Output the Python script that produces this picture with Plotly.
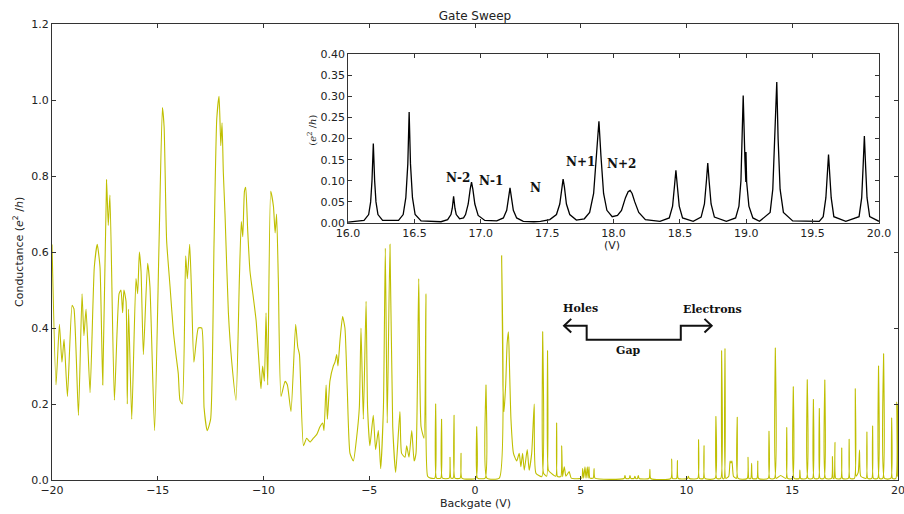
import plotly.graph_objects as go

# ---------------- main sweep (Backgate V, conductance e^2/h) ----------------
gate_v = [
    -20.00, -19.81, -19.65, -19.53, -19.43, -19.27, -19.05, -18.96, -18.75, -18.58,
    -18.49, -18.39, -18.20, -18.00, -17.86, -17.73, -17.60, -17.42, -17.34, -17.26,
    -17.05, -16.83, -16.74, -16.66, -16.60, -16.50, -16.44, -16.38, -16.23, -16.03,
    -15.95, -15.87, -15.79, -15.68, -15.48, -15.37, -15.15, -14.94, -14.78, -14.70,
    -14.58, -14.42, -14.26, -14.14, -14.03, -13.95, -13.84, -13.68, -13.60, -13.49,
    -13.40, -13.29, -13.08, -12.92, -12.81, -12.66, -12.50, -12.34, -12.21, -12.10,
    -12.02, -11.96, -11.90, -11.82, -11.66, -11.50, -11.30, -11.14, -11.05, -10.98,
    -10.90, -10.84, -10.75, -10.64, -10.48, -10.35, -10.19, -10.12, -10.04, -9.96,
    -9.88, -9.80, -9.66, -9.53, -9.45, -9.38, -9.30, -9.17, -8.98, -8.87,
    -8.70, -8.48, -8.38, -8.30, -8.11, -7.96, -7.80, -7.64, -7.48, -7.33,
    -7.20, -7.14, -7.04, -6.98, -6.86, -6.70, -6.62, -6.54, -6.48, -6.38,
    -6.26, -6.15, -6.04, -5.91, -5.75, -5.60, -5.47, -5.39, -5.28, -5.15,
    -5.08, -4.97, -4.81, -4.70, -4.57, -4.46, -4.33, -4.24, -4.15, -4.02,
    -3.89, -3.75, -3.55, -3.47, -3.31, -3.23, -3.12, -2.99, -2.88, -2.79,
    -2.66, -2.55, -2.41, -2.32, -2.24, -2.10, -1.90, -1.86, -1.82, -1.62,
    -1.58, -1.54, -1.22, -1.18, -1.14, -1.03, -0.99, -0.95, -0.70, -0.66,
    -0.62, 0.04, 0.08, 0.12, 0.48, 0.52, 0.56, 1.15, 1.26, 1.32,
    1.37, 1.45, 1.52, 1.58, 1.63, 1.70, 1.82, 1.97, 2.09, 2.17,
    2.25, 2.33, 2.47, 2.56, 2.68, 2.80, 2.88, 3.16, 3.20, 3.24,
    3.39, 3.43, 3.47, 3.60, 3.82, 3.86, 3.90, 4.06, 4.10, 4.14,
    4.22, 4.30, 4.45, 4.55, 5.05, 5.09, 5.14, 5.20, 5.25, 5.31,
    5.35, 5.39, 5.43, 5.59, 5.63, 5.67, 7.05, 7.09, 7.13, 7.29,
    7.33, 7.37, 7.52, 7.56, 7.60, 7.68, 7.72, 7.76, 8.23, 8.27,
    8.31, 9.26, 9.30, 9.34, 9.53, 9.57, 9.61, 10.05, 10.09, 10.13,
    10.53, 10.57, 10.61, 10.79, 10.83, 10.87, 11.35, 11.39, 11.43, 11.62,
    11.66, 11.71, 11.78, 11.82, 11.86, 12.00, 12.06, 12.10, 12.15, 12.22,
    12.36, 12.40, 12.44, 12.87, 12.91, 12.95, 13.04, 13.08, 13.12, 13.33,
    13.37, 13.41, 13.86, 13.90, 13.94, 14.16, 14.20, 14.24, 14.45, 14.70,
    14.74, 14.78, 15.01, 15.05, 15.09, 15.33, 15.36, 15.40, 15.67, 15.71,
    15.75, 15.96, 16.00, 16.04, 16.24, 16.28, 16.32, 16.50, 16.54, 16.58,
    16.86, 16.90, 16.94, 16.98, 17.02, 17.06, 17.30, 17.34, 17.38, 17.65,
    17.69, 17.73, 17.94, 17.98, 18.02, 18.12, 18.18, 18.24, 18.49, 18.53,
    18.57, 18.76, 18.80, 18.84, 19.04, 19.08, 19.12, 19.28, 19.32, 19.36,
    19.66, 19.70, 19.74, 19.90, 19.94, 19.97, 20.00,
]
conductance = [
    0.62, 0.25, 0.41, 0.31, 0.37, 0.22, 0.46, 0.45, 0.17, 0.49,
    0.38, 0.45, 0.23, 0.56, 0.62, 0.56, 0.25, 0.79, 0.67, 0.75,
    0.21, 0.49, 0.50, 0.44, 0.50, 0.47, 0.20, 0.45, 0.16, 0.53,
    0.49, 0.60, 0.55, 0.33, 0.57, 0.51, 0.13, 0.62, 0.98, 0.93,
    0.63, 0.51, 0.39, 0.33, 0.28, 0.21, 0.20, 0.59, 0.53, 0.62,
    0.49, 0.31, 0.40, 0.40, 0.19, 0.13, 0.16, 0.62, 0.95, 1.01,
    0.88, 0.94, 0.81, 0.70, 0.44, 0.31, 0.21, 0.53, 0.68, 0.64,
    0.76, 0.77, 0.66, 0.55, 0.48, 0.42, 0.29, 0.24, 0.30, 0.26,
    0.44, 0.25, 0.76, 0.72, 0.65, 0.70, 0.53, 0.22, 0.26, 0.25,
    0.18, 0.41, 0.35, 0.33, 0.09, 0.11, 0.10, 0.11, 0.12, 0.14,
    0.15, 0.13, 0.25, 0.16, 0.26, 0.30, 0.31, 0.33, 0.30, 0.37,
    0.43, 0.40, 0.24, 0.07, 0.05, 0.11, 0.19, 0.40, 0.16, 0.47,
    0.19, 0.09, 0.17, 0.08, 0.13, 0.03, 0.19, 0.61, 0.15, 0.62,
    0.14, 0.02, 0.18, 0.07, 0.06, 0.09, 0.06, 0.13, 0.05, 0.07,
    0.53, 0.14, 0.11, 0.49, 0.01, 0.005, 0.005, 0.20, 0.005, 0.005,
    0.16, 0.005, 0.005, 0.06, 0.005, 0.005, 0.17, 0.005, 0.005, 0.07,
    0.005, 0.005, 0.14, 0.005, 0.005, 0.25, 0.005, 0.005, 0.59, 0.25,
    0.18, 0.25, 0.36, 0.39, 0.30, 0.16, 0.07, 0.05, 0.07, 0.035,
    0.07, 0.026, 0.08, 0.026, 0.07, 0.20, 0.018, 0.009, 0.39, 0.018,
    0.01, 0.34, 0.026, 0.018, 0.01, 0.15, 0.009, 0.009, 0.09, 0.009,
    0.035, 0.01, 0.022, 0.005, 0.005, 0.03, 0.005, 0.035, 0.005, 0.035,
    0.005, 0.035, 0.005, 0.005, 0.03, 0.005, 0.004, 0.012, 0.004, 0.004,
    0.012, 0.004, 0.004, 0.01, 0.004, 0.004, 0.012, 0.004, 0.004, 0.028,
    0.004, 0.004, 0.055, 0.004, 0.004, 0.051, 0.004, 0.004, 0.01, 0.004,
    0.004, 0.106, 0.004, 0.004, 0.09, 0.004, 0.004, 0.167, 0.004, 0.004,
    0.34, 0.004, 0.004, 0.345, 0.004, 0.01, 0.05, 0.045, 0.05, 0.01,
    0.004, 0.165, 0.004, 0.004, 0.06, 0.004, 0.004, 0.044, 0.004, 0.004,
    0.05, 0.004, 0.004, 0.128, 0.004, 0.004, 0.347, 0.004, 0.012, 0.004,
    0.138, 0.004, 0.004, 0.245, 0.004, 0.004, 0.026, 0.004, 0.004, 0.264,
    0.004, 0.004, 0.212, 0.004, 0.004, 0.188, 0.004, 0.004, 0.263, 0.004,
    0.004, 0.062, 0.004, 0.004, 0.099, 0.004, 0.004, 0.084, 0.004, 0.004,
    0.107, 0.004, 0.004, 0.24, 0.01, 0.02, 0.079, 0.01, 0.004, 0.126,
    0.004, 0.004, 0.142, 0.004, 0.004, 0.30, 0.004, 0.004, 0.332, 0.004,
    0.004, 0.163, 0.004, 0.004, 0.205, 0.01, 0.20,
]

# ---------------- inset: zoom 16-20 V ----------------
inset_v = [
    16.00, 16.12, 16.155, 16.17, 16.18, 16.19, 16.20, 16.21, 16.225, 16.26,
    16.38, 16.415, 16.435, 16.45, 16.46, 16.47, 16.485, 16.505, 16.55, 16.70,
    16.75, 16.775, 16.785, 16.795, 16.805, 16.815, 16.84, 16.87, 16.885, 16.905,
    16.92, 16.93, 16.94, 16.955, 16.98, 17.03, 17.12, 17.17, 17.195, 17.21,
    17.22, 17.23, 17.245, 17.27, 17.32, 17.40, 17.45, 17.52, 17.57, 17.595,
    17.61, 17.62, 17.63, 17.645, 17.67, 17.72, 17.78, 17.82, 17.85, 17.87,
    17.89, 17.905, 17.925, 17.95, 17.99, 18.03, 18.06, 18.09, 18.11, 18.125,
    18.14, 18.16, 18.19, 18.24, 18.35, 18.42, 18.445, 18.46, 18.47, 18.48,
    18.495, 18.52, 18.60, 18.66, 18.685, 18.70, 18.71, 18.72, 18.735, 18.76,
    18.85, 18.92, 18.945, 18.96, 18.97, 18.977, 18.99, 18.997, 18.998, 19.003,
    19.02, 19.05, 19.10, 19.18, 19.20, 19.215, 19.23, 19.24, 19.255, 19.28,
    19.35, 19.55, 19.58, 19.60, 19.61, 19.62, 19.63, 19.64, 19.66, 19.75,
    19.85, 19.87, 19.88, 19.89, 19.90, 19.91, 19.93, 20.00,
]
inset_g = [
    0.002, 0.006, 0.02, 0.05, 0.10, 0.188, 0.10, 0.05, 0.02, 0.006,
    0.006, 0.02, 0.06, 0.14, 0.263, 0.14, 0.06, 0.02, 0.005, 0.003,
    0.008, 0.02, 0.035, 0.063, 0.035, 0.02, 0.01, 0.012, 0.02, 0.045,
    0.08, 0.097, 0.08, 0.045, 0.018, 0.006, 0.005, 0.012, 0.03, 0.062,
    0.083, 0.062, 0.03, 0.012, 0.004, 0.003, 0.004, 0.008, 0.02, 0.045,
    0.085, 0.104, 0.085, 0.045, 0.02, 0.007, 0.01, 0.025, 0.07, 0.16,
    0.241, 0.16, 0.07, 0.03, 0.015, 0.018, 0.03, 0.06, 0.074, 0.077,
    0.07, 0.05, 0.025, 0.008, 0.004, 0.012, 0.04, 0.09, 0.125, 0.09,
    0.04, 0.012, 0.004, 0.014, 0.045, 0.10, 0.142, 0.10, 0.045, 0.014,
    0.004, 0.012, 0.04, 0.10, 0.22, 0.302, 0.15, 0.097, 0.168, 0.097,
    0.04, 0.012, 0.004, 0.025, 0.08, 0.20, 0.334, 0.20, 0.08, 0.025,
    0.005, 0.004, 0.015, 0.06, 0.11, 0.162, 0.11, 0.06, 0.015, 0.004,
    0.015, 0.06, 0.13, 0.206, 0.13, 0.06, 0.015, 0.004,
]

main_xticks = [-20, -15, -10, -5, 0, 5, 10, 15, 20]
main_yticks = [0.0, 0.2, 0.4, 0.6, 0.8, 1.0, 1.2]
inset_xticks = [16.0, 16.5, 17.0, 17.5, 18.0, 18.5, 19.0, 19.5, 20.0]
inset_yticks = [0.00, 0.05, 0.10, 0.15, 0.20, 0.25, 0.30, 0.35, 0.40]

peak_labels = ["N-2", "N-1", "N", "N+1", "N+2"]
peak_label_v = [16.83, 17.08, 17.41, 17.75, 18.06]
peak_label_g = [0.107, 0.099, 0.083, 0.145, 0.140]

AX = "#333333"
TICKFONT = dict(family="DejaVu Sans", size=11, color="#222222")
SERIF = dict(family="DejaVu Serif", size=11, color="#111111")

fig = go.Figure()
fig.add_trace(go.Scatter(x=gate_v, y=conductance, mode="lines",
                         line=dict(color="#bfbf00", width=1.1,
                                   shape="spline", smoothing=0.5),
                         xaxis="x", yaxis="y", showlegend=False,
                         hoverinfo="skip"))
fig.add_trace(go.Scatter(x=inset_v, y=inset_g, mode="lines",
                         line=dict(color="black", width=1.3),
                         xaxis="x2", yaxis="y2", showlegend=False,
                         hoverinfo="skip"))

common = dict(showgrid=False, zeroline=False, showline=True, linecolor=AX,
              linewidth=1, mirror="allticks", ticks="inside", ticklen=4,
              tickcolor=AX, tickfont=TICKFONT, automargin=False,
              ticklabeloverflow="allow")

fig.update_layout(
    template="none",
    width=904, height=514, autosize=False,
    margin=dict(l=52, r=6, t=24, b=34, autoexpand=False),
    paper_bgcolor="white", plot_bgcolor="white",
    showlegend=False,
    title=dict(text="Gate Sweep", x=0.5, xref="paper", xanchor="center",
               y=1 - 16 / 514, yanchor="middle",
               font=dict(family="DejaVu Sans", size=12, color="#222222")),
    xaxis=dict(domain=[0, 1], range=[-20, 20], tickvals=main_xticks,
               anchor="y", **common),
    yaxis=dict(domain=[0, 1], range=[0, 1.2], tickvals=main_yticks,
               tickformat=".1f", anchor="x", **common),
    xaxis2=dict(domain=[0.35, 0.9775], range=[16, 20], tickvals=inset_xticks,
                tickformat=".1f", anchor="y2", **common),
    yaxis2=dict(domain=[0.5636, 0.934], range=[0, 0.4], tickvals=inset_yticks,
                tickformat=".2f", anchor="x2", **common),
)

annotations = [
    dict(text="Backgate (V)", xref="paper", yref="paper", x=0.5, y=-0.0526,
         showarrow=False, xanchor="center", yanchor="middle",
         font=dict(family="DejaVu Sans", size=11, color="#222222")),
    dict(text="Conductance (<i>e</i><sup>2</sup> /<i>h</i>)", xref="paper",
         yref="paper", x=-0.0402, y=0.5, textangle=-90, showarrow=False,
         xanchor="center", yanchor="middle",
         font=dict(family="DejaVu Sans", size=11, color="#222222")),
    dict(text="(V)", xref="paper", yref="paper", x=0.6616, y=0.515,
         showarrow=False, xanchor="center", yanchor="middle",
         font=dict(family="DejaVu Sans", size=11, color="#222222")),
    dict(text="(<i>e</i><sup>2</sup> /<i>h</i>)", xref="paper", yref="paper",
         x=0.307, y=0.7675, textangle=-90, showarrow=False,
         xanchor="center", yanchor="middle",
         font=dict(family="DejaVu Serif", size=10, color="#222222")),
    dict(text="<b>Holes</b>", xref="x", yref="y", x=5.01, y=0.451,
         showarrow=False, xanchor="center", yanchor="middle", font=SERIF),
    dict(text="<b>Electrons</b>", xref="x", yref="y", x=11.21, y=0.449,
         showarrow=False, xanchor="center", yanchor="middle", font=SERIF),
    dict(text="<b>Gap</b>", xref="x", yref="y", x=7.28, y=0.340,
         showarrow=False, xanchor="center", yanchor="middle", font=SERIF),
]
for t, vx, vy in zip(peak_labels, peak_label_v, peak_label_g):
    annotations.append(dict(text="<b>" + t + "</b>", xref="x2", yref="y2",
                            x=vx, y=vy, showarrow=False, xanchor="center",
                            yanchor="middle",
                            font=dict(family="DejaVu Serif", size=12,
                                      color="#111111")))
fig.update_layout(annotations=annotations)

shapes = [
    dict(type="path", xref="x", yref="y",
         path="M 4.21,0.406 L 5.28,0.406 L 5.28,0.369 L 9.73,0.369 L 9.73,0.406 L 11.19,0.406",
         line=dict(color="#111111", width=2)),
    dict(type="path", xref="x", yref="y",
         path="M 4.55,0.424 L 4.21,0.406 L 4.55,0.388",
         line=dict(color="#111111", width=2)),
    dict(type="path", xref="x", yref="y",
         path="M 10.85,0.424 L 11.19,0.406 L 10.85,0.388",
         line=dict(color="#111111", width=2)),
]
fig.update_layout(shapes=shapes)

fig.write_html("out.html",
               config={"displayModeBar": False},
               post_script="document.body.style.margin='0';"
                           "document.body.style.padding='0';")
